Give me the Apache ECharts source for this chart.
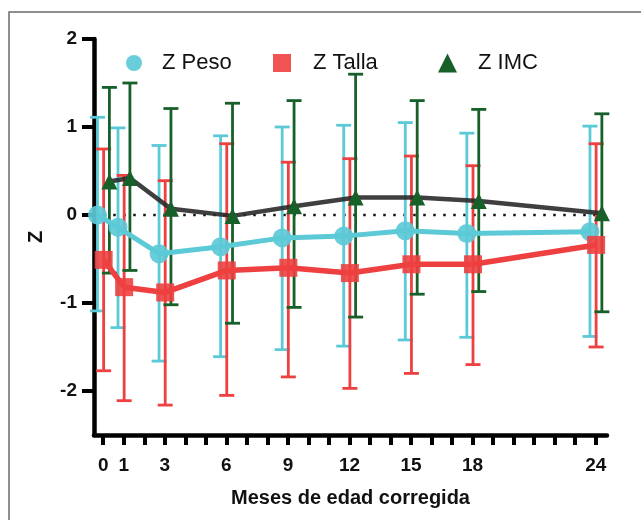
<!DOCTYPE html>
<html>
<head>
<meta charset="utf-8">
<script src="https://cdn.jsdelivr.net/npm/echarts@6/dist/echarts.min.js"></script>
<style>
  html, body { margin: 0; padding: 0; background: #fff; }
  #main { width: 641px; height: 520px; }
</style>
</head>
<body>
<div id="main"></div>
<script>
// meses de edad corregida
const months = [0, 1, 3, 6, 9, 12, 15, 18, 24]
const xTickLabels = [0, 1, 3, 6, 9, 12, 15, 18, 24]
const xTicks = [0, 1, 2, 3, 4, 5, 6, 7, 8, 9, 10, 11, 12, 13, 14, 15, 16, 17, 18, 19, 20, 21, 22, 23, 24]
const yTickLabels = [-2, -1, 0, 1, 2]

// Z Peso (media, limite inferior, limite superior)
const pesoMean = [0.0, -0.14, -0.44, -0.36, -0.26, -0.24, -0.18, -0.21, -0.19]
const pesoLow = [-1.09, -1.28, -1.66, -1.61, -1.53, -1.49, -1.42, -1.39, -1.38]
const pesoHigh = [1.11, 0.99, 0.79, 0.9, 1.0, 1.02, 1.05, 0.93, 1.01]

// Z Talla
const tallaMean = [-0.51, -0.82, -0.88, -0.63, -0.6, -0.66, -0.56, -0.56, -0.34]
const tallaLow = [-1.77, -2.11, -2.16, -2.05, -1.84, -1.97, -1.8, -1.7, -1.5]
const tallaHigh = [0.75, 0.45, 0.39, 0.81, 0.6, 0.64, 0.67, 0.56, 0.81]

// Z IMC
const imcMean = [0.38, 0.42, 0.07, -0.01, 0.1, 0.2, 0.2, 0.16, 0.02]
const imcLow = [-0.66, -0.63, -1.02, -1.23, -1.05, -1.16, -0.9, -0.87, -1.1]
const imcHigh = [1.45, 1.5, 1.21, 1.27, 1.3, 1.6, 1.3, 1.2, 1.15]

// pequeño desplazamiento horizontal para que no se tapen (como en el original)
const nudge = { peso: -0.28, talla: 0.02, imc: 0.3 }

const cyan = '#5cc9d7'
const red = '#ee4040'
const green = '#17602a'
const sans = "'Liberation Sans', Arial, sans-serif"

function pts (mean, dx) {
  return months.map((m, i) => [m + dx, mean[i]])
}
function bars (low, high, dx) {
  return months.map((m, i) => [m + dx, low[i], high[i]])
}

function errorBar (color) {
  return function (params, api) {
    const x = api.value(0)
    const lo = api.coord([x, api.value(1)])
    const hi = api.coord([x, api.value(2)])
    const w = 7.5
    const style = { stroke: color, lineWidth: 2.8 }
    return {
      type: 'group',
      children: [
        { type: 'line', shape: { x1: lo[0], y1: lo[1], x2: hi[0], y2: hi[1] }, style: style },
        { type: 'line', shape: { x1: hi[0] - w, y1: hi[1], x2: hi[0] + w, y2: hi[1] }, style: style },
        { type: 'line', shape: { x1: lo[0] - w, y1: lo[1], x2: lo[0] + w, y2: lo[1] }, style: style }
      ]
    }
  }
}

function legendBox (name, icon, left, w, pad) {
  return {
    data: [{ name: name, icon: icon }],
    left: left,
    top: 47,
    itemWidth: w,
    itemHeight: w,
    textStyle: { fontFamily: sans, fontSize: 22, color: '#111', padding: [0, 0, 0, pad] }
  }
}

const myChart = echarts.init(document.getElementById('main'))
const option = {
  animation: false,
  backgroundColor: '#fff',
  graphic: [{
    type: 'rect',
    shape: { x: 9, y: 12, width: 700, height: 600 },
    style: { fill: 'none', stroke: '#6b6b6b', lineWidth: 1.5 },
    z: -1
  }],
  legend: [
    legendBox('Z Peso', 'circle', 121, 16, 15),
    legendBox('Z Talla', 'rect', 268, 18, 17),
    legendBox('Z IMC', 'triangle', 433, 19, 16)
  ],
  grid: { left: 94, right: 34, top: 39, bottom: 85 },
  xAxis: {
    type: 'value',
    min: -0.45,
    max: 24.55,
    name: 'Meses de edad corregida',
    nameLocation: 'middle',
    nameGap: 53,
    nameTextStyle: { fontFamily: sans, fontSize: 20, fontWeight: 'bold', color: '#111' },
    splitLine: { show: false },
    axisLine: { onZero: false, lineStyle: { color: '#000', width: 4.5 } },
    axisTick: { length: 10, lineStyle: { color: '#000', width: 4 }, customValues: xTicks },
    axisLabel: {
      customValues: xTickLabels,
      margin: 21,
      fontFamily: sans,
      fontSize: 19,
      fontWeight: 'bold',
      color: '#111'
    }
  },
  yAxis: {
    type: 'value',
    min: -2.5,
    max: 2,
    name: 'Z',
    nameLocation: 'middle',
    nameRotate: 90,
    nameGap: 48,
    nameTextStyle: { fontFamily: sans, fontSize: 20, fontWeight: 'bold', color: '#111' },
    splitLine: { show: false },
    axisLine: { show: true, onZero: false, lineStyle: { color: '#000', width: 4.5 } },
    axisTick: { show: true, length: 12, lineStyle: { color: '#000', width: 4 }, customValues: yTickLabels },
    axisLabel: {
      customValues: yTickLabels,
      margin: 17,
      fontFamily: sans,
      fontSize: 19,
      fontWeight: 'bold',
      color: '#111'
    }
  },
  series: [
    {
      name: 'cero',
      type: 'line',
      data: [[months[0], 0], [months[months.length - 1], 0]],
      symbol: 'none',
      silent: true,
      lineStyle: { color: '#111', width: 2.5, type: [2.5, 7.5] },
      z: 1
    },
    { type: 'custom', name: 'DE Peso', renderItem: errorBar(cyan), itemStyle: { color: cyan }, data: bars(pesoLow, pesoHigh, nudge.peso), z: 2 },
    { type: 'custom', name: 'DE Talla', renderItem: errorBar(red), itemStyle: { color: red }, data: bars(tallaLow, tallaHigh, nudge.talla), z: 2 },
    { type: 'custom', name: 'DE IMC', renderItem: errorBar(green), itemStyle: { color: green }, data: bars(imcLow, imcHigh, nudge.imc), z: 2 },
    {
      name: 'Z Peso',
      type: 'line',
      data: pts(pesoMean, nudge.peso),
      symbol: 'circle',
      symbolSize: 19,
      itemStyle: { color: cyan, opacity: 0.92 },
      lineStyle: { color: cyan, width: 5 },
      z: 3
    },
    {
      name: 'Z Talla',
      type: 'line',
      data: pts(tallaMean, nudge.talla),
      symbol: 'rect',
      symbolSize: 18,
      itemStyle: { color: red, opacity: 0.9 },
      lineStyle: { color: red, width: 5.5 },
      z: 3
    },
    {
      name: 'Z IMC',
      type: 'line',
      data: pts(imcMean, nudge.imc),
      symbol: 'triangle',
      symbolSize: 16,
      itemStyle: { color: green },
      lineStyle: { color: '#2a2a2a', width: 4.5, opacity: 0.9 },
      z: 3
    }
  ]
}
myChart.setOption(option)
</script>
</body>
</html>
